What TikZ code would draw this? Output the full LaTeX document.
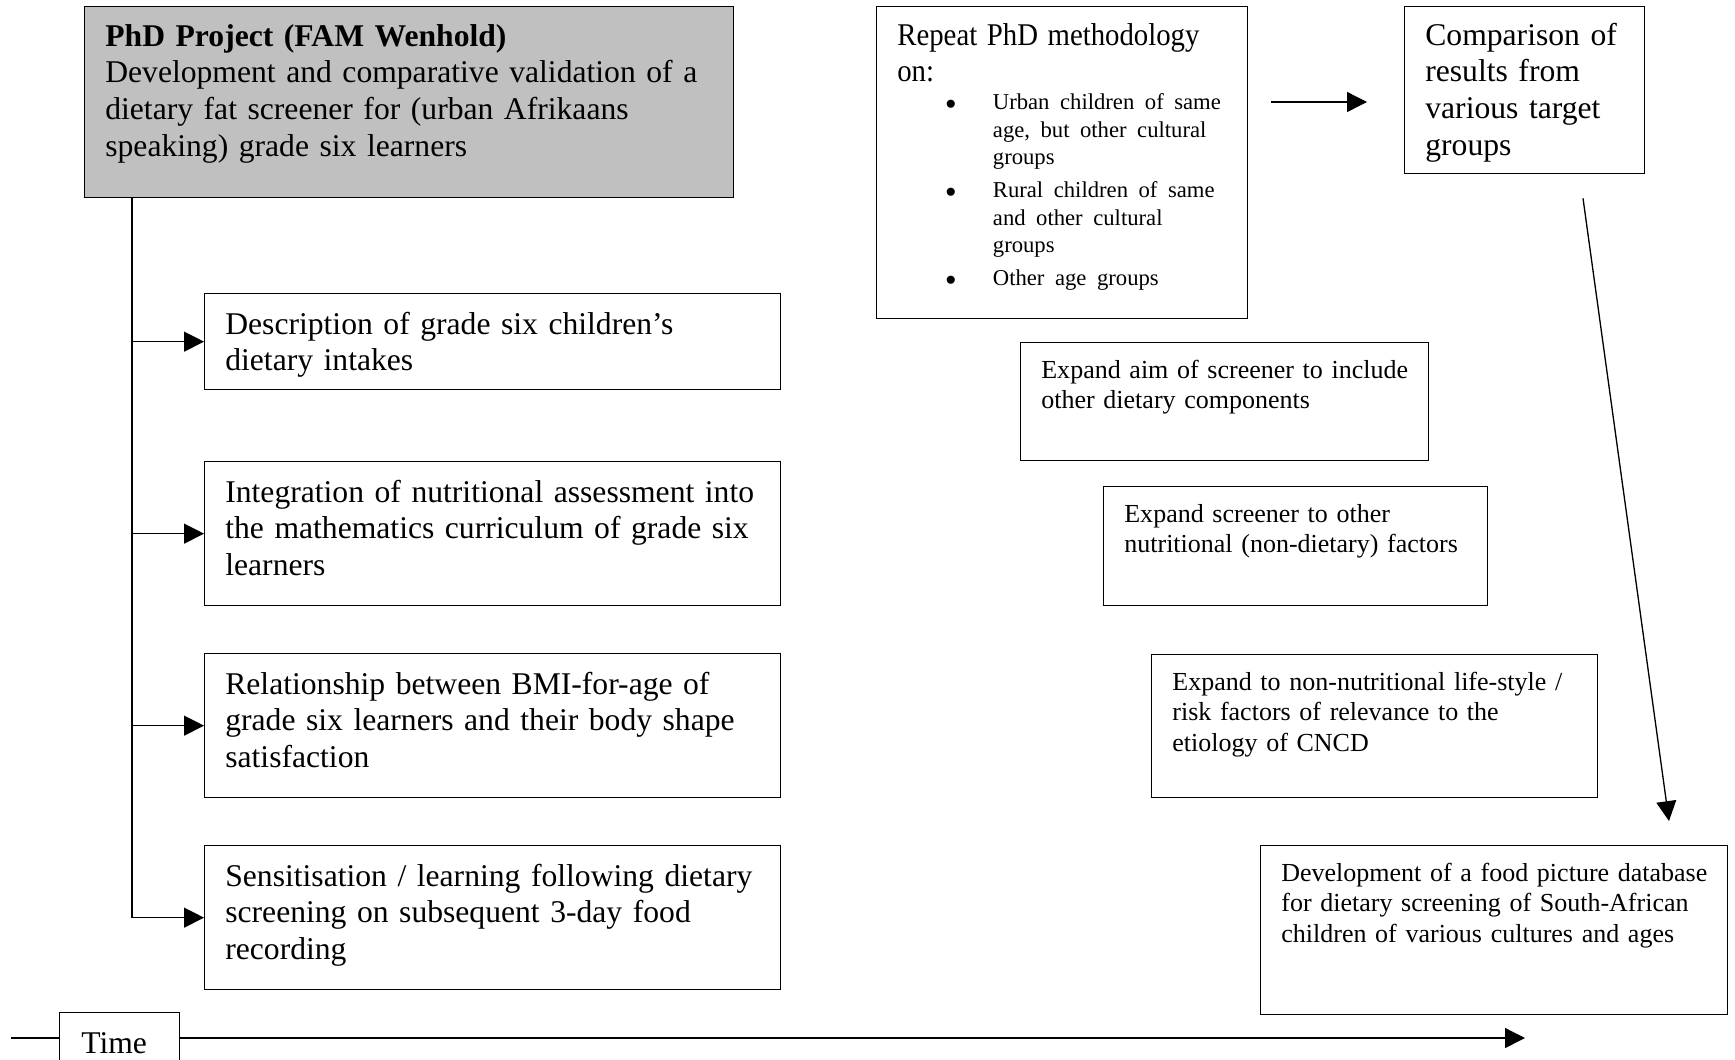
\documentclass[tikz,border=0pt]{standalone}
\usepackage{fontspec,enumitem,graphicx}
\setmainfont{Liberation Serif}
\usetikzlibrary{arrows.meta}
\definecolor{phdgray}{HTML}{C0C0C0}

\begin{document}
\begin{tikzpicture}[x=0.02cm,y=-0.02cm,
      frame/.style={draw,line width=.75pt,anchor=north west,inner sep=0pt},
      big/.style={anchor=base west,inner sep=0pt,text width=14cm,align=left,
                  font=\fontsize{18}{21}\selectfont},
      small/.style={big,font=\fontsize{14.8}{17.6}\selectfont},
      link/.style={line width=.75pt},
      arr/.style={link,-{Triangle[length=11.3pt,width=11.3pt]}}]
    \useasboundingbox (0,0) rectangle (1735,1059);
    \clip (0,0) rectangle (1735,1059);
    % PhD project and the studies that come out of it
    \node[frame,fill=phdgray,minimum width=12.98cm,minimum height=3.82cm] (phd) at (84,6) {};
    \node[big] (phd-t) at ([shift={(21,40)}]phd.north west) {\textbf{PhD Project (FAM Wenhold)}\\Development and comparative validation of a\\dietary fat screener for (urban Afrikaans\\speaking) grade six learners};
    \node[frame,minimum width=11.52cm,minimum height=1.92cm] (d1) at (204,293) {};
    \node[big] (d1-t) at ([shift={(21,41)}]d1.north west) {Description of grade six children’s\\dietary intakes};
    \node[frame,minimum width=11.52cm,minimum height=2.88cm] (d2) at (204,461) {};
    \node[big] (d2-t) at ([shift={(21,41)}]d2.north west) {Integration of nutritional assessment into\\the mathematics curriculum of grade six\\learners};
    \node[frame,minimum width=11.52cm,minimum height=2.88cm] (d3) at (204,653) {};
    \node[big] (d3-t) at ([shift={(21,41)}]d3.north west) {Relationship between BMI-for-age of\\grade six learners and their body shape\\satisfaction};
    \node[frame,minimum width=11.52cm,minimum height=2.88cm] (d4) at (204,845) {};
    \node[big] (d4-t) at ([shift={(21,41)}]d4.north west) {Sensitisation / learning following dietary\\screening on subsequent 3-day food\\recording};
    \draw[link] ([shift={(48,0)}]phd.south west) coordinate (spine) -- (spine |- d4.west);
    \draw[arr] (spine |- d1.west) -- (d1.west);
    \draw[arr] (spine |- d2.west) -- (d2.west);
    \draw[arr] (spine |- d3.west) -- (d3.west);
    \draw[arr] (spine |- d4.west) -- (d4.west);

    % follow-up work
    \node[frame,minimum width=7.42cm,minimum height=6.24cm] (rep) at (876,6) {};
    \node[big] (rep-t) at ([shift={(21,39)}]rep.north west) {\scalebox{0.91}[1]{Repeat PhD methodology}\\\scalebox{0.91}[1]{on:}\par
      {\fontsize{12.9}{15.7}\selectfont
      \begin{itemize}[label=$\bullet$,leftmargin=54.4pt,labelsep=21pt,itemsep=3pt,parsep=0pt,topsep=0pt,partopsep=0pt]
        \item Urban children of same\\age, but other cultural\\groups
        \item Rural children of same\\and other cultural\\groups
        \item Other age groups
      \end{itemize}}};
    \node[frame,minimum width=4.8cm,minimum height=3.34cm] (cmp) at (1404,6) {};
    \node[big] (cmp-t) at ([shift={(21,39)}]cmp.north west) {Comparison of\\results from\\various target\\groups};
    \draw[arr] ([shift={(23,96)}]rep.north east) -- ([shift={(-37,96)}]cmp.north west);
    \node[frame,minimum width=8.16cm,minimum height=2.36cm] (aim) at (1020,342) {};
    \node[small] (aim-t) at ([shift={(21,36)}]aim.north west) {Expand aim of screener to include\\other dietary components};
    \node[frame,minimum width=7.68cm,minimum height=2.38cm] (scr) at (1103,486) {};
    \node[small] (scr-t) at ([shift={(21,36)}]scr.north west) {Expand screener to other\\nutritional (non-dietary) factors};
    \node[frame,minimum width=8.92cm,minimum height=2.86cm] (risk) at (1151,654) {};
    \node[small] (risk-t) at ([shift={(21,36)}]risk.north west) {Expand to non-nutritional life-style /\\risk factors of relevance to the\\etiology of CNCD};
    \node[frame,minimum width=9.34cm,minimum height=3.38cm] (food) at (1260,845) {};
    \node[small] (food-t) at ([shift={(21,36)}]food.north west) {Development of a food picture database\\for dietary screening of South-African\\children of various cultures and ages};
    \draw[arr] ([shift={(179,24)}]cmp.south west) -- ([shift={(409,-24)}]food.north west);

    % time axis
    \node[frame,minimum width=2.4cm,minimum height=1.6cm] (tm) at (59,1012) {};
    \node[big] (tm-t) at ([shift={(22,41)}]tm.north west) {Time};
    \coordinate (t0) at (11,1038);
    \coordinate (t1) at (1525,1038);
    \draw[link] (t0) -- (t0 -| tm.west);
    \draw[arr] (t0 -| tm.east) -- (t1);
\end{tikzpicture}
\end{document}
